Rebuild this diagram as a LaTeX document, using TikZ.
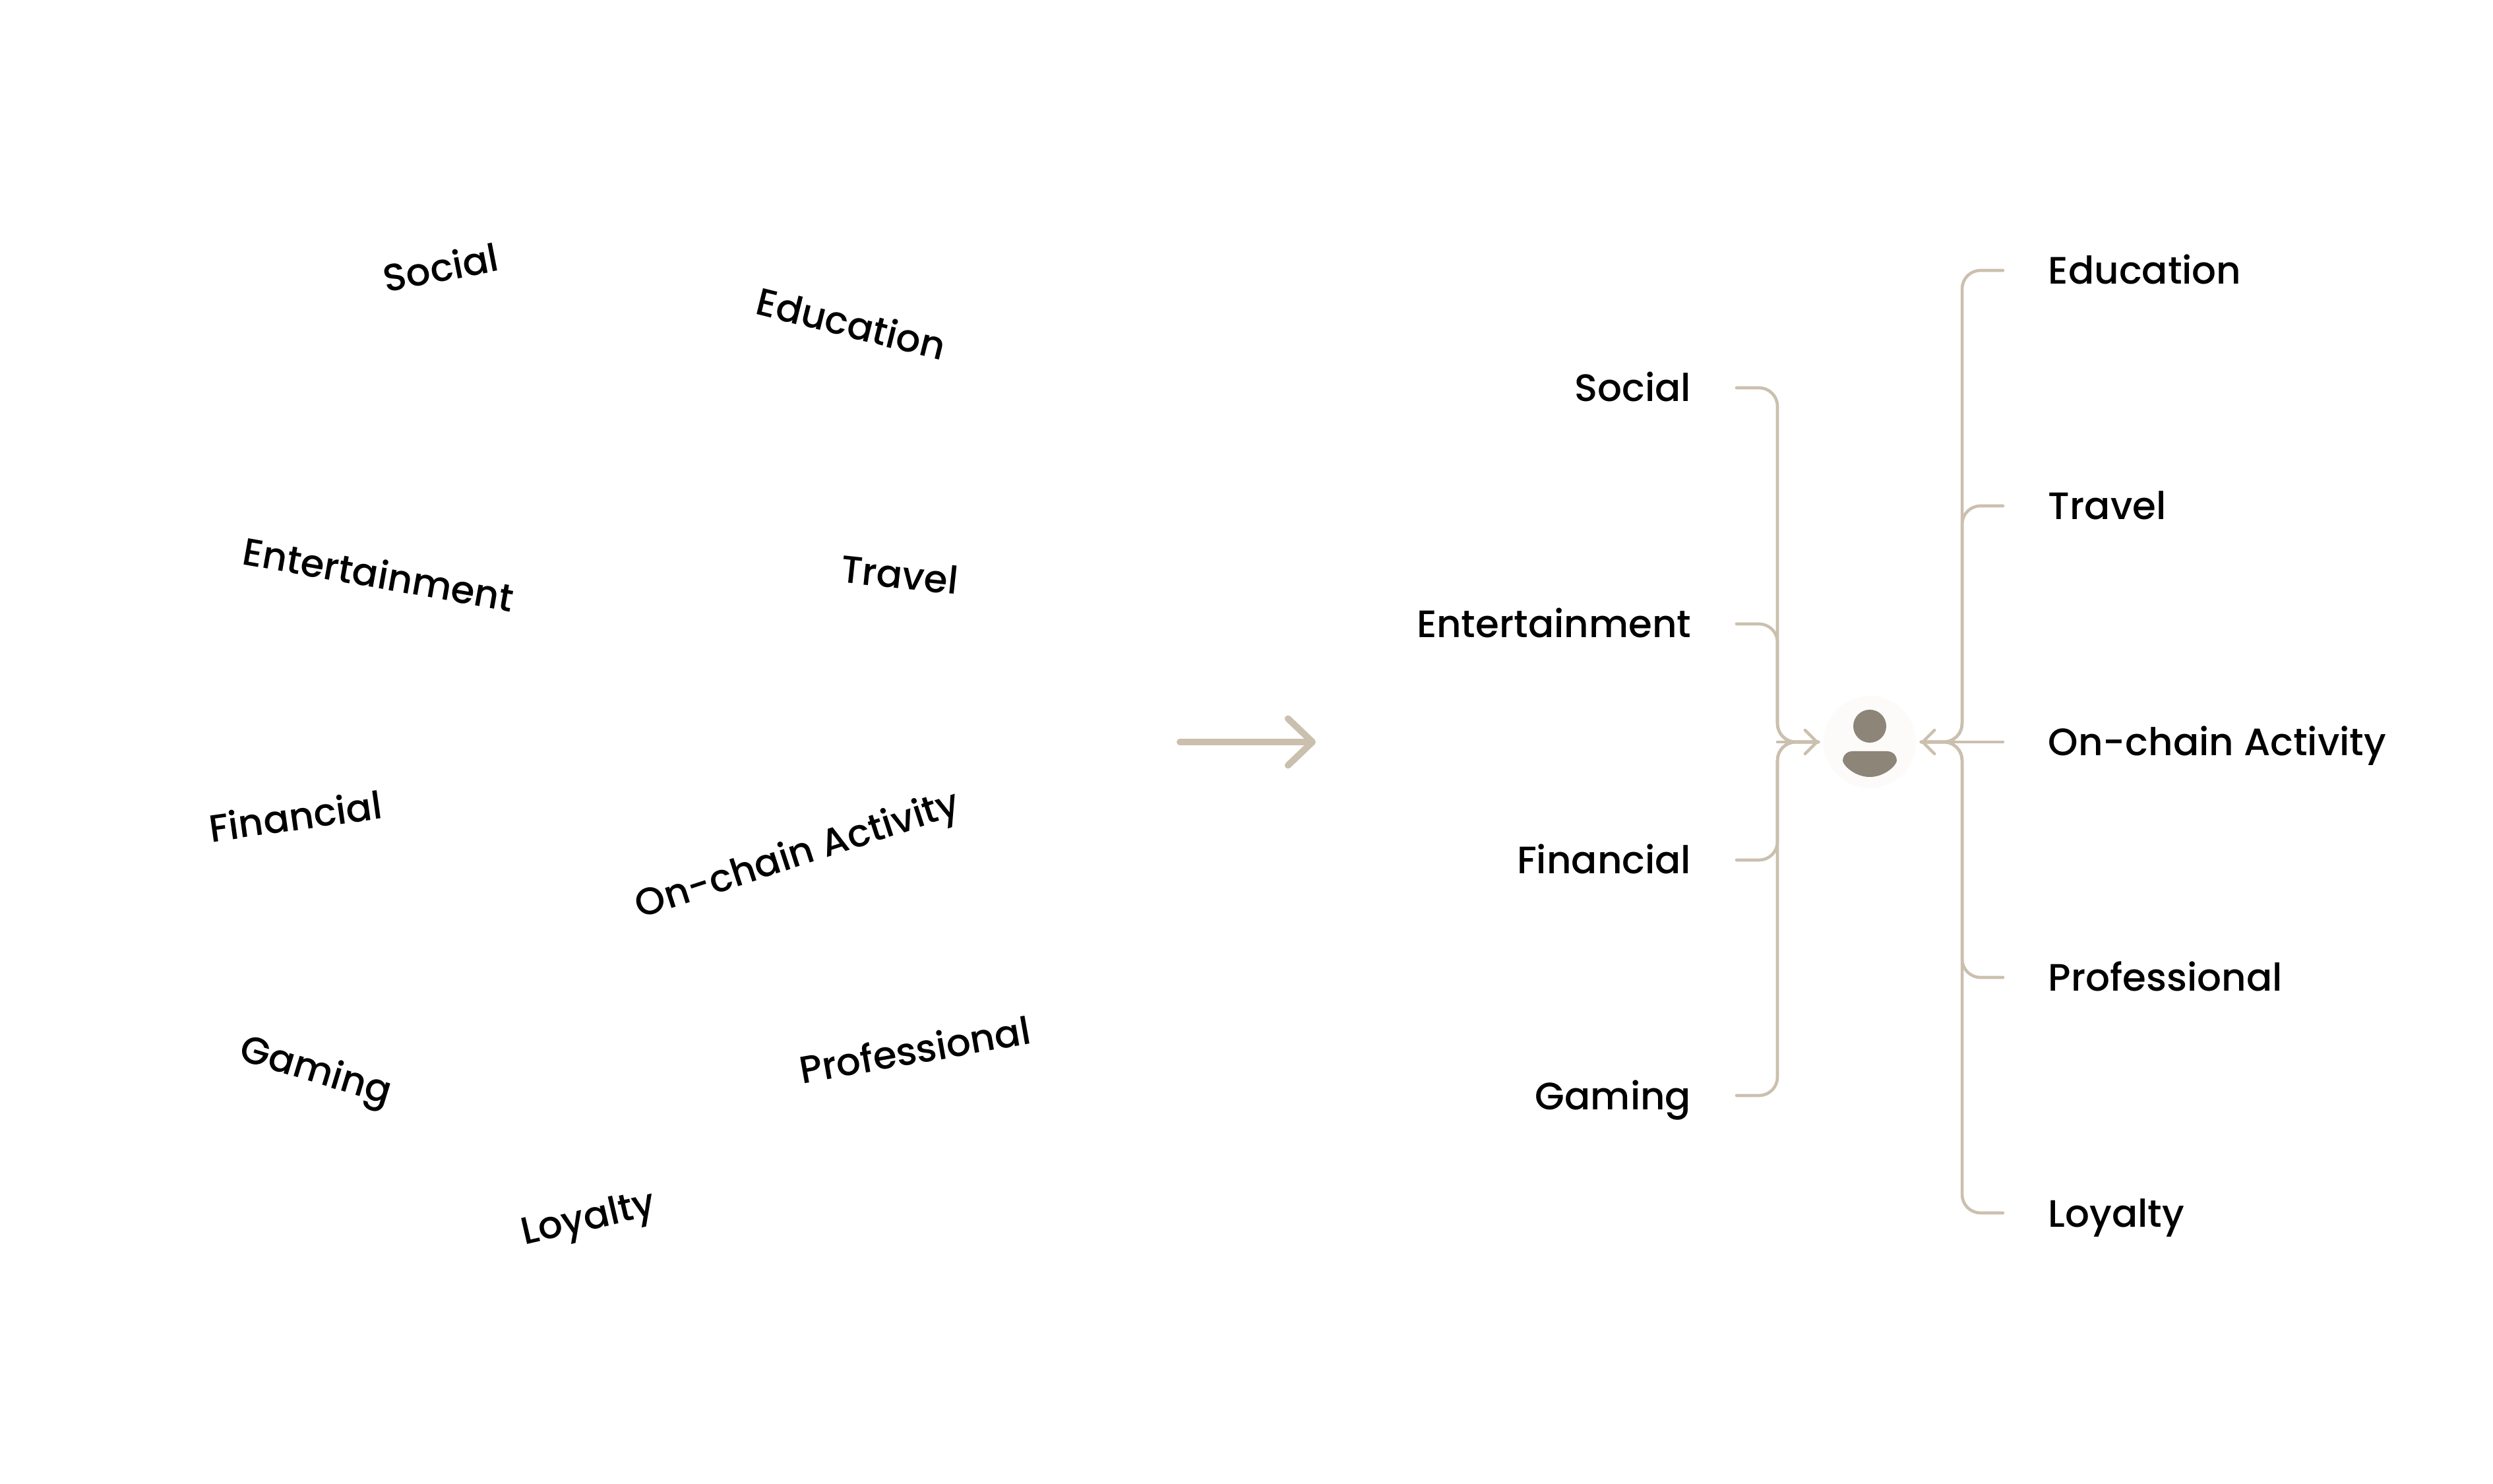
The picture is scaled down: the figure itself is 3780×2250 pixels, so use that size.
\documentclass[tikz,border=0pt]{standalone}
\usepackage{fontspec}
\setmainfont{Poppins}[UprightFont=* Medium]
\usepackage{xcolor}
\usetikzlibrary{arrows.meta}
\definecolor{linktan}{HTML}{CBBFAE}
\definecolor{usergrey}{HTML}{8C8578}
\definecolor{userbg}{HTML}{FCFBF9}
\tikzset{
  tag/.style={inner sep=0pt,text=black},
  link/.style={draw=linktan,line width=1.1pt,line cap=round,rounded corners=6.7pt,shorten >=1.7pt},
}
\begin{document}
\begin{tikzpicture}[x=0.24pt,y=-0.24pt,font=\fontsize{13.9}{16}\selectfont]
  \useasboundingbox (0,0) rectangle (3780,2250);
  % scattered labels
  \foreach \id/\name/\px/\py/\rot in {Social/Social/668/405/11,Education/Education/1291/490/-14,Entertainment/Entertainment/574/870/-10,Travel/Travel/1364/871/-6,Financial/Financial/448/1237/8,Onchain/On-chain Activity/1210/1299/18,Gaming/Gaming/478/1627/-17,Professional/Professional/1387/1591/10,Loyalty/Loyalty/893/1851/13}{
    \node[tag,rotate=\rot] (a\id) at (\px,\py) {\name};
  }
  \node[coordinate] (arrowL) at (1789,1125) {};
  \node[coordinate] (arrowR) at (1995,1125) {};
  \draw[-{Straight Barb[length=8.9pt,width=17pt,round]},draw=linktan,line width=2.4pt,line cap=round] (arrowL) -- (arrowR);
  % user icon
  \node[circle,fill=userbg,minimum size=33.6pt,inner sep=0pt] (user) at (2835,1125) {};
  \fill[usergrey] (2835,1101) circle (25);
  \fill[usergrey] (2809,1139) -- (2861,1139) .. controls (2872,1139) and (2876,1148) .. (2876,1153) .. controls (2876,1160) and (2858,1178) .. (2835,1178) .. controls (2812,1178) and (2794,1160) .. (2794,1153) .. controls (2794,1148) and (2798,1139) .. (2809,1139) -- cycle;
  \coordinate (jointL) at (2695,1125);
  \coordinate (jointR) at (2975,1125);
  % left column
  \foreach \id/\name/\yy in {Social/Social/588,Entertainment/Entertainment/946,Financial/Financial/1304,Gaming/Gaming/1661}{
    \node[tag,anchor=base east] (l\id) at (2565,\yy+21) {\name};
    \coordinate (s\id) at (2633,\yy);
    \draw[link] (s\id) -| (jointL) -- (user);
  }
  % right column
  \foreach \id/\name/\yy in {Education/Education/410,Travel/Travel/767,Professional/Professional/1482,Loyalty/Loyalty/1839}{
    \node[tag,anchor=base west] (r\id) at (3105,\yy+21) {\name};
    \coordinate (s\id) at (3037,\yy);
    \draw[link] (s\id) -| (jointR) -- (user);
  }
  \node[tag,anchor=base west] (rOnchain) at (3105,1125+21) {On-chain Activity};
  \coordinate (sOnchain) at (3037,1125);
  \draw[link] (sOnchain) -- (user);
  \draw[link,-{Straight Barb[length=4.3pt,width=8.6pt,round]}] (jointL) -- (user);
  \draw[link,-{Straight Barb[length=4.3pt,width=8.6pt,round]}] (jointR) -- (user);
\end{tikzpicture}
\end{document}
